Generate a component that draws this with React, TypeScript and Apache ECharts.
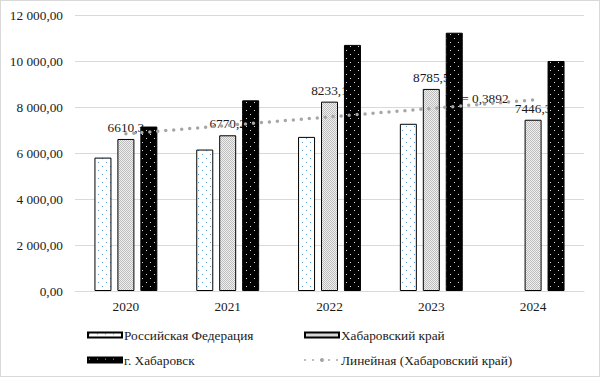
import React, { useEffect, useRef } from "react";
import * as echarts from "echarts";

const years = ["2020", "2021", "2022", "2023", "2024"];
const russiaValues: (number | null)[] = [5800, 6150, 6700, 7270, null];
const krayValues: number[] = [6610.3, 6770.2, 8233.1, 8785.5, 7446.3];
const cityValues: number[] = [7150, 8290, 10700, 11230, 10000];
const yTicks = { min: 0, max: 12000, interval: 2000 };
const seriesNames = [
  "Российская Федерация",
  "Хабаровский край",
  "г. Хабаровск",
  "Линейная (Хабаровский край)",
];
const r2Label = "R² = 0,3892";

const FONT = "Liberation Serif";
const FS = 13.3;

function linearTrend(values: number[]): number[] {
  const n = values.length;
  const xs = values.map((_, i) => i + 1);
  const mx = xs.reduce((a, b) => a + b, 0) / n;
  const my = values.reduce((a, b) => a + b, 0) / n;
  let sxy = 0;
  let sxx = 0;
  for (let i = 0; i < n; i++) {
    sxy += (xs[i] - mx) * (values[i] - my);
    sxx += (xs[i] - mx) * (xs[i] - mx);
  }
  const slope = sxy / sxx;
  return xs.map((x) => +(my + slope * (x - mx)).toFixed(1));
}

function makePattern(
  size: number,
  bg: string,
  fg: string,
  pts: [number, number][]
): any {
  const c = document.createElement("canvas");
  c.width = size;
  c.height = size;
  const ctx = c.getContext("2d")!;
  ctx.fillStyle = bg;
  ctx.fillRect(0, 0, size, size);
  ctx.fillStyle = fg;
  pts.forEach(([x, y]) => ctx.fillRect(x, y, 1, 1));
  return {
    image: c.toDataURL(),
    repeat: "repeat",
    imageWidth: size,
    imageHeight: size,
  };
}

function fmtAxis(v: number): string {
  const s = v.toFixed(2);
  const [int, dec] = s.split(".");
  const withSpaces = int.replace(/\B(?=(\d{3})+(?!\d))/g, " ");
  return withSpaces + "," + dec;
}

export default function App() {
  const ref = useRef<HTMLDivElement>(null);

  useEffect(() => {
    if (!ref.current) return;
    const chart = echarts.init(ref.current, undefined, { renderer: "svg" });

    const russiaPattern = makePattern(8, "#ffffff", "#5b9bd5", [
      [1, 1],
      [5, 5],
    ]);
    const krayPattern = makePattern(2, "#f0f0f0", "#bdbdbd", [
      [0, 0],
      [1, 1],
    ]);
    const cityPattern = makePattern(8, "#000000", "#e0e0e0", [
      [1, 1],
      [5, 5],
    ]);

    const trend = linearTrend(krayValues);

    const labelStyle = { fontFamily: FONT, fontSize: FS, color: "#1a1a1a" };
    const legendCommon = {
      orient: "vertical",
      top: 326,
      height: 48,
      padding: 0,
      itemWidth: 34,
      itemHeight: 5,
      itemGap: 9,
      textStyle: { ...labelStyle, lineHeight: 16, padding: [0, 0, 0, -3] },
    };

    chart.setOption({
      animation: false,
      backgroundColor: "#ffffff",
      grid: { left: 74, right: 15, top: 14, bottom: 85, containLabel: false },
      xAxis: {
        type: "category",
        data: years,
        axisTick: { show: false },
        axisLine: { lineStyle: { color: "#d9d9d9", width: 1 } },
        axisLabel: { ...labelStyle, margin: 9 },
      },
      yAxis: {
        type: "value",
        min: yTicks.min,
        max: yTicks.max,
        interval: yTicks.interval,
        axisLine: { show: false },
        axisTick: { show: false },
        splitLine: { lineStyle: { color: "#d9d9d9", width: 1 } },
        axisLabel: { ...labelStyle, margin: 12, formatter: (v: number) => fmtAxis(v) },
      },
      legend: [
        {
          ...legendCommon,
          left: 86,
          data: [
            { name: seriesNames[0], icon: "rect" },
            { name: seriesNames[2], icon: "rect" },
          ],
        },
        {
          ...legendCommon,
          left: 303,
          data: [{ name: seriesNames[1], icon: "rect" }, { name: seriesNames[3] }],
        },
      ],
      series: [
        {
          name: seriesNames[0],
          type: "bar",
          data: russiaValues,
          barWidth: 17,
          barGap: "35%",
          z: 2,
          itemStyle: { color: russiaPattern, borderColor: "#000000", borderWidth: 1 },
        },
        {
          name: seriesNames[1],
          type: "bar",
          data: krayValues,
          barWidth: 17,
          barGap: "35%",
          z: 2,
          itemStyle: { color: krayPattern, borderColor: "#000000", borderWidth: 1 },
          label: {
            show: true,
            position: "top",
            distance: 5,
            ...labelStyle,
            formatter: (p: any) => String(p.value).replace(".", ","),
          },
        },
        {
          name: seriesNames[2],
          type: "bar",
          data: cityValues,
          barWidth: 17,
          barGap: "35%",
          z: 5,
          itemStyle: { color: cityPattern, borderColor: "#000000", borderWidth: 1 },
        },
        {
          name: seriesNames[3],
          type: "line",
          data: trend,
          symbol: "none",
          z: 6,
          itemStyle: { color: "#a6a6a6" },
          lineStyle: { color: "#a6a6a6", width: 3.5, type: [0, 8], cap: "round" },
        },
      ],
      graphic: [
        {
          type: "text",
          left: 444,
          top: 91,
          z: 3,
          style: {
            text: r2Label,
            fontFamily: FONT,
            fontSize: FS,
            fill: "#1a1a1a",
          },
        },
      ],
    });

    return () => chart.dispose();
  }, []);

  return (
    <div
      style={{
        position: "fixed",
        left: 0,
        top: 0,
        width: 600,
        height: 377,
        boxSizing: "border-box",
        border: "1px solid #d9d9d9",
        background: "#fff",
      }}
    >
      <div ref={ref} style={{ width: 598, height: 375 }} />
    </div>
  );
}
